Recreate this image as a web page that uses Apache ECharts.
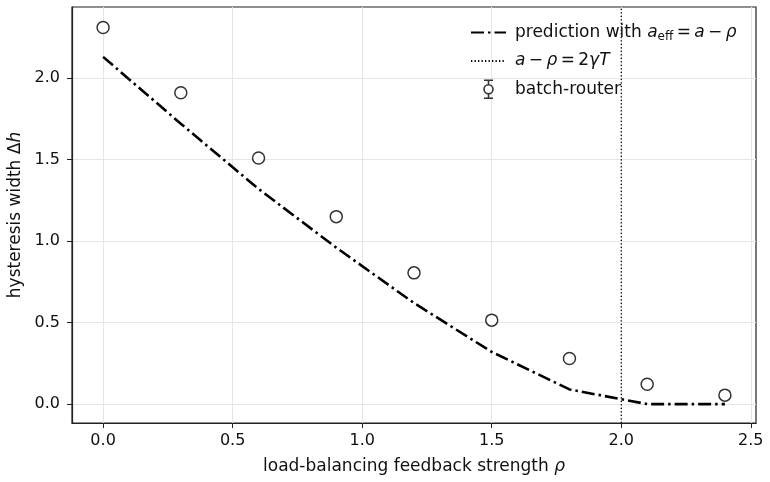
<!DOCTYPE html>
<html>
<head>
<meta charset="utf-8">
<script src="https://cdn.jsdelivr.net/npm/echarts@6/dist/echarts.min.js"></script>
<style>
	html, body { margin: 0; padding: 0; background: #fff; }
	#chart { width: 770px; height: 482px; }
</style>
</head>
<body>
<div id="chart"></div>
<script>
// feedback strength rho
const rhoValues = [0, 0.3, 0.6, 0.9, 1.2, 1.5, 1.8, 2.1, 2.4];
// measured hysteresis width (batch-router)
const measured = [2.31, 1.91, 1.51, 1.15, 0.805, 0.515, 0.28, 0.122, 0.055];
// prediction with a_eff = a - rho
const predicted = [2.13, 1.72, 1.32, 0.96, 0.62, 0.32, 0.09, 0.0, 0.0];
// critical rho where a - rho = 2 gamma T
const rhoCritical = 2.0;
const xTicks = [0, 0.5, 1.0, 1.5, 2.0, 2.5];
const yTicks = [0, 0.5, 1.0, 1.5, 2.0];

const X_MIN = -0.12, X_MAX = 2.52;
const Y_MIN = -0.116, Y_MAX = 2.436;

const FONT = 'DejaVu Sans';
const TXT = '#111';

const errIcon = 'path://M1 0 L9 0 M5 0 L5 4 M5 12 L5 16 M1 16 L9 16 M9 8 A4 4 0 1 1 1 8 A4 4 0 1 1 9 8 Z';

const fmtTick = (ticks) => (v) => {
	const hit = ticks.find(t => Math.abs(t - v) < 1e-6);
	return hit === undefined ? '' : hit.toFixed(1);
};

const chart = echarts.init(document.getElementById('chart'));
const option = {
	animation: false,
	backgroundColor: '#fff',
	textStyle: { fontFamily: FONT, color: TXT },
	grid: {
		left: 72, right: 14, top: 7, bottom: 59,
		outerBoundsMode: 'none',
		containLabel: false,
		show: true, borderColor: '#222', borderWidth: 1.2, backgroundColor: 'transparent'
	},
	legend: {
		orient: 'vertical',
		left: 465,
		top: 19,
		itemWidth: 35,
		itemHeight: 18,
		itemGap: 10,
		textStyle: {
			fontFamily: FONT, fontSize: 17, color: TXT, padding: [0, 0, 0, 4],
			rich: {
				r: { fontFamily: FONT, fontSize: 17, color: TXT, lineHeight: 20 },
				i: { fontFamily: FONT, fontSize: 17, fontStyle: 'italic', color: TXT, lineHeight: 20 },
				s: { fontFamily: FONT, fontSize: 12, color: TXT, lineHeight: 13, verticalAlign: 'bottom' }
			}
		},
		formatter: (name) => {
			if (name === 'prediction') return '{r|prediction with }{i|a}{s|eff}{r|\u2009=\u2009}{i|a}{r|\u2009−\u2009}{i|ρ}';
			if (name === 'critical') return '{i|a}{r|\u2009−\u2009}{i|ρ}{r|\u2009=\u20092}{i|γT}';
			return '{r|' + name + '}';
		},
		data: [
			{ name: 'prediction', itemStyle: { color: 'transparent', borderWidth: 0 } },
			{ name: 'critical', itemStyle: { color: 'transparent', borderWidth: 0 } },
			{ name: 'batch-router', icon: errIcon, itemStyle: { color: '#fff', borderColor: '#000', borderWidth: 1.6 } }
		]
	},
	xAxis: {
		type: 'value',
		min: X_MIN, max: X_MAX,
		interval: 0.5,
		name: '{n|load-balancing feedback strength }{i|ρ}',
		nameLocation: 'middle',
		nameGap: 35,
		nameTextStyle: {
			rich: {
				n: { fontFamily: FONT, fontSize: 17, color: TXT },
				i: { fontFamily: FONT, fontSize: 17, color: TXT, fontStyle: 'italic' }
			}
		},
		axisLine: { show: true, onZero: false, lineStyle: { color: '#222', width: 1.2 } },
		axisTick: { show: true, length: 5, lineStyle: { color: '#222', width: 1 },
			customValues: xTicks },
		axisLabel: { fontFamily: FONT, fontSize: 16, color: TXT, margin: 10,
			customValues: xTicks, formatter: fmtTick(xTicks) },
		splitLine: { show: true, lineStyle: { color: '#e6e6e6', width: 1 } }
	},
	yAxis: {
		type: 'value',
		min: Y_MIN, max: Y_MAX,
		interval: 0.5,
		name: '{n|hysteresis width Δ}{i|h}',
		nameLocation: 'middle',
		nameGap: 48,
		nameTextStyle: {
			rich: {
				n: { fontFamily: FONT, fontSize: 17, color: TXT },
				i: { fontFamily: FONT, fontSize: 17, color: TXT, fontStyle: 'italic' }
			}
		},
		axisLine: { show: true, onZero: false, lineStyle: { color: '#222', width: 1.2 } },
		axisTick: { show: true, length: 5, lineStyle: { color: '#222', width: 1 },
			customValues: yTicks },
		axisLabel: { fontFamily: FONT, fontSize: 16, color: TXT, margin: 12,
			customValues: yTicks, formatter: fmtTick(yTicks) },
		splitLine: { show: true, lineStyle: { color: '#e6e6e6', width: 1 } }
	},
	series: [
		{
			name: 'prediction',
			type: 'line',
			data: rhoValues.map((r, i) => [r, predicted[i]]),
			symbol: 'none',
			lineStyle: { color: '#000', width: 2.6, type: [13, 4, 2.5, 4] },
			itemStyle: { color: '#000' },
			z: 3
		},
		{
			name: 'critical',
			type: 'line',
			data: [[rhoCritical, Y_MIN], [rhoCritical, Y_MAX]],
			symbol: 'none',
			lineStyle: { color: '#000', width: 1.3, type: [1.3, 2.2] },
			itemStyle: { color: '#000' },
			z: 2
		},
		{
			name: 'batch-router',
			type: 'scatter',
			data: rhoValues.map((r, i) => [r, measured[i]]),
			symbol: 'circle',
			symbolSize: 12,
			itemStyle: { color: '#fff', borderColor: '#000', borderWidth: 1.5 },
			z: 4
		}
	]
};
chart.setOption(option);
</script>
</body>
</html>
